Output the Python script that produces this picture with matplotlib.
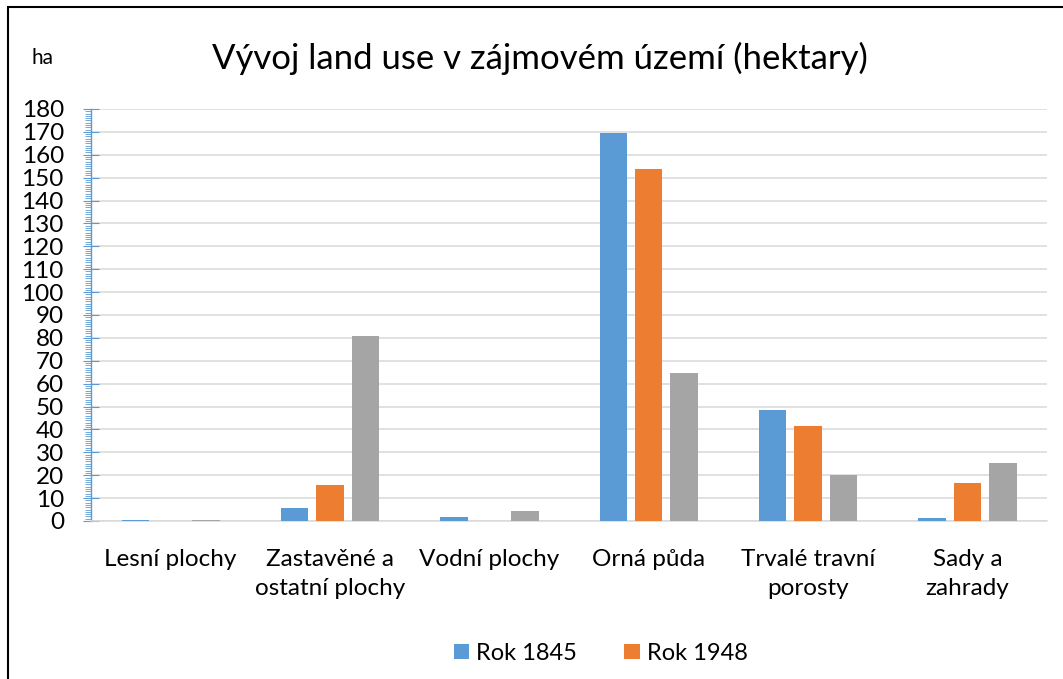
import matplotlib.pyplot as plt
import numpy as np
from matplotlib.patches import Rectangle
from matplotlib.ticker import MultipleLocator

plt.rcParams['font.family'] = ['Lato', 'DejaVu Sans']

categories = ["Lesní plochy", "Zastavěné a\nostatní plochy", "Vodní plochy",
              "Orná půda", "Trvalé travní\nporosty", "Sady a\nzahrady"]
rok1845 = [0.45, 5.5, 1.9, 169.6, 48.7, 1.3]
rok1948 = [0.2, 15.8, 0.0, 153.9, 41.7, 16.6]
rok_treti = [0.6, 80.8, 4.5, 64.8, 20.2, 25.2]

fig = plt.figure(figsize=(10.63, 6.79), dpi=100)
ax = fig.add_axes([0.0856, 0.2327, 0.8994, 0.6068])

x = np.arange(len(categories))
w = 0.173
off = 0.222
ax.bar(x - off, rok1845, w, color="#5B9BD5", label="Rok 1845", zorder=3)
ax.bar(x, rok1948, w, color="#ED7D31", label="Rok 1948", zorder=3)
ax.bar(x + off, rok_treti, w, color="#A5A5A5", zorder=3)

ax.set_xlim(-0.5, len(categories) - 0.5)
ax.set_ylim(0, 180)
ax.yaxis.set_major_locator(MultipleLocator(10))
ax.yaxis.set_minor_locator(MultipleLocator(1))
ax.grid(axis="y", color="#D9D9D9", linewidth=1.1, zorder=0)
ax.set_axisbelow(True)

for s in ["top", "right"]:
    ax.spines[s].set_visible(False)
ax.spines["left"].set_color("#5B9BD5")
ax.spines["left"].set_linewidth(1.0)
ax.spines["bottom"].set_color("#D9D9D9")
ax.spines["bottom"].set_linewidth(1.1)

ax.tick_params(axis="y", which="major", direction="inout", length=11,
               color="#5B9BD5", labelsize=17.5, pad=14)
ax.tick_params(axis="y", which="minor", direction="out", length=4,
               color="#5B9BD5")
ax.set_xticks(x)
ax.set_xticklabels(categories, fontsize=17.5, linespacing=1.5)
ax.tick_params(axis="x", length=0, pad=20)

fig.text(0.508, 0.914, "Vývoj land use v zájmovém území (hektary)",
         ha="center", va="center", fontsize=25)
fig.text(0.030, 0.914, "ha", ha="left", va="center", fontsize=15)

ax.legend(loc="center", bbox_to_anchor=(0.565, 0.038),
          bbox_transform=fig.transFigure, ncol=2, frameon=False,
          fontsize=17, handlelength=0.65, handleheight=0.65,
          handletextpad=0.3, columnspacing=2.0)

fig.patches.append(Rectangle((0.0075, -0.5), 2.0, 1.49,
                             transform=fig.transFigure, fill=False,
                             edgecolor="black", linewidth=1.5))

fig.savefig("out.png")
